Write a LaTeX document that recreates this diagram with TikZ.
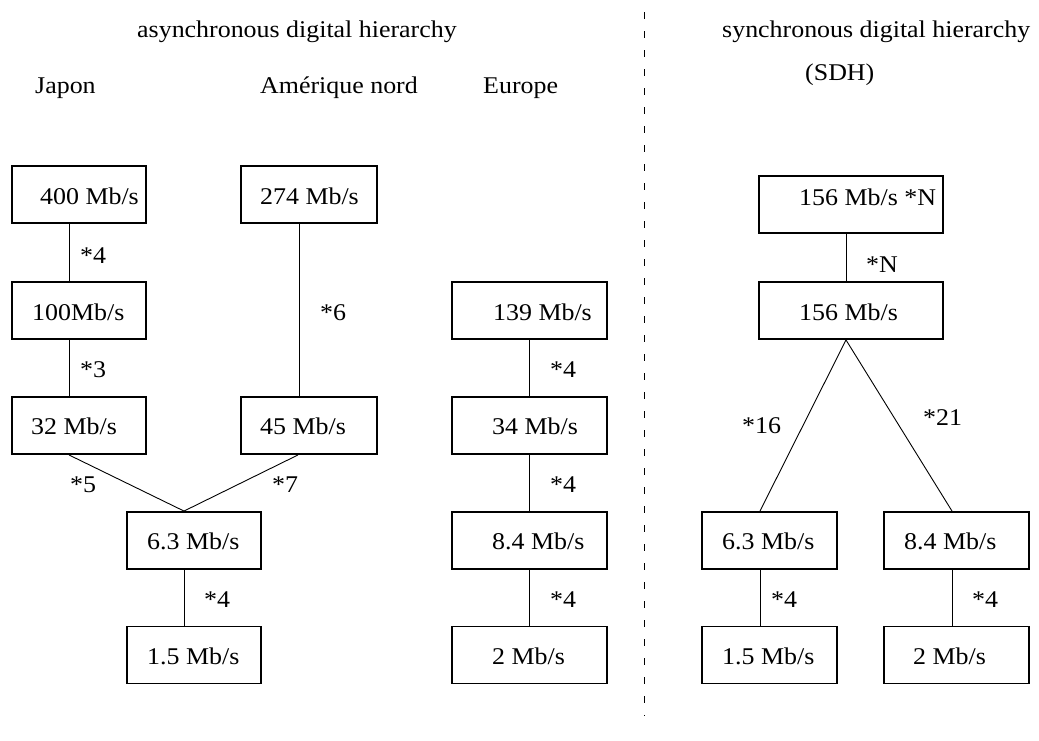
\documentclass[tikz,border=0pt]{standalone}
\usepackage{fontspec}
\setmainfont{Liberation Serif}[FakeStretch=1.08]
\begin{document}
\begin{tikzpicture}[x=1pt,y=-1pt,
  box/.style={draw,line width=1.9pt,rectangle,inner sep=0pt,minimum height=57pt},
  txt/.style={anchor=base west,inner sep=0pt,font=\fontsize{24}{28}\selectfont},
  link/.style={line width=0.9pt},
  sep/.style={line width=1pt,dash pattern=on 7pt off 12pt}]
\useasboundingbox (0,0) rectangle (1039,740);

% headings
\node[txt] (hasync) at (137,37) {asynchronous digital hierarchy};
\node[txt] (hsync) at (722,37) {synchronous digital hierarchy};
\node[txt] (hsdh) at (805,80) {(SDH)};
\node[txt] (hjap) at (35,93) {Japon};
\node[txt] (hame) at (260,93) {Amérique nord};
\node[txt] (heur) at (483,93) {Europe};

% separator between the two hierarchies
\coordinate (septop) at (644,12);
\coordinate (sepbot) at (644,716);
\draw[sep] (septop) -- (sepbot);

% asynchronous boxes
\node[box,minimum width=134pt] (j400) at (79,194.5) {};
\node[box,minimum width=136pt] (a274) at (309,194.5) {};
\node[box,minimum width=134pt] (j100) at (79,310.5) {};
\node[box,minimum width=155pt] (e139) at (529.5,310.5) {};
\node[box,minimum width=134pt] (j32) at (79,425.5) {};
\node[box,minimum width=136pt] (a45) at (309,425.5) {};
\node[box,minimum width=155pt] (e34) at (529.5,425.5) {};
\node[box,minimum width=134pt] (j63) at (194,540.5) {};
\node[box,minimum width=155pt] (e84) at (529.5,540.5) {};
\node[box,minimum width=134pt] (j15) at (194,655) {};
\node[box,minimum width=155pt] (e2) at (529.5,655) {};

% synchronous boxes
\node[box,minimum width=184pt] (s156n) at (851,204.5) {};
\node[box,minimum width=184pt] (s156) at (851,310.5) {};
\node[box,minimum width=135pt] (s63) at (769.5,540.5) {};
\node[box,minimum width=145pt] (s84) at (956.5,540.5) {};
\node[box,minimum width=135pt] (s15) at (769.5,655) {};
\node[box,minimum width=145pt] (s2) at (956.5,655) {};

% box texts
\node[txt] at (40,204) {400 Mb/s};
\node[txt] at (260,204) {274 Mb/s};
\node[txt] at (32,320) {100Mb/s};
\node[txt] at (493,320) {139 Mb/s};
\node[txt] at (31,434) {32 Mb/s};
\node[txt] at (260,434) {45 Mb/s};
\node[txt] at (492,434) {34 Mb/s};
\node[txt] at (147,549) {6.3 Mb/s};
\node[txt] at (492,549) {8.4 Mb/s};
\node[txt] at (147,664) {1.5 Mb/s};
\node[txt] at (492,664) {2 Mb/s};
\node[txt] at (799,205) {156 Mb/s *N};
\node[txt] at (799,320) {156 Mb/s};
\node[txt] at (722,549) {6.3 Mb/s};
\node[txt] at (904,549) {8.4 Mb/s};
\node[txt] at (722,664) {1.5 Mb/s};
\node[txt] at (913,664) {2 Mb/s};

% connectors
\draw[link] ([xshift=-10pt]j400.south) -- ([xshift=-10pt]j100.north);
\draw[link] ([xshift=-10pt]j100.south) -- ([xshift=-10pt]j32.north);
\draw[link] ([xshift=-10pt]a274.south) -- ([xshift=-10pt]a45.north);
\draw[link] ([xshift=-10pt]j32.south) -- ([xshift=-10pt]j63.north);
\draw[link] ([xshift=-11pt]a45.south) -- ([xshift=-10pt]j63.north);
\draw[link] ([xshift=-10pt]j63.south) -- ([xshift=-10pt]j15.north);
\draw[link] (e139.south) -- (e34.north);
\draw[link] (e34.south) -- (e84.north);
\draw[link] (e84.south) -- (e2.north);
\draw[link] ([xshift=-5pt]s156n.south) -- ([xshift=-5pt]s156.north);
\draw[link] ([xshift=-5pt]s156.south) -- ([xshift=-9.5pt]s63.north);
\draw[link] ([xshift=-5pt]s156.south) -- ([xshift=-4.5pt]s84.north);
\draw[link] ([xshift=-9.5pt]s63.south) -- ([xshift=-9.5pt]s15.north);
\draw[link] ([xshift=-4.5pt]s84.south) -- ([xshift=-4.5pt]s2.north);

% multiplexing factors
\node[txt] at (80,263) {*4};
\node[txt] at (80,377) {*3};
\node[txt] at (320,320) {*6};
\node[txt] at (70,492) {*5};
\node[txt] at (272,492) {*7};
\node[txt] at (204,607) {*4};
\node[txt] at (550,377) {*4};
\node[txt] at (550,492) {*4};
\node[txt] at (550,607) {*4};
\node[txt] at (866,272) {*N};
\node[txt] at (742,433) {*16};
\node[txt] at (923,425) {*21};
\node[txt] at (771,607) {*4};
\node[txt] at (972,607) {*4};
\end{tikzpicture}
\end{document}
